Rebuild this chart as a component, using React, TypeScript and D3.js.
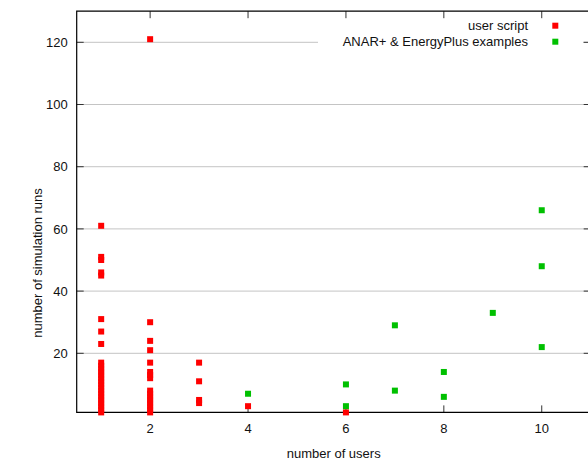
import React, { useRef, useEffect } from 'react';
import { select, scaleLinear } from 'd3';

// user script runs, one entry per (users, runs) point
const userScriptUsers = [
  1, 1, 1, 1, 1, 1, 1, 1, 1, 1, 1, 1, 1, 1, 1, 1, 1, 1, 1, 1, 1, 1, 1, 1, 1,
  2, 2, 2, 2, 2, 2, 2, 2, 2, 2, 2, 2, 2, 2, 2, 2,
  3, 3, 3, 3,
  4,
  6,
];
const userScriptRuns = [
  61, 51, 50, 46, 45, 31, 27, 23, 17, 16, 15, 14, 13, 12, 11, 10, 9, 8, 7, 6, 5, 4, 3, 2, 1,
  121, 30, 24, 21, 17, 14, 13, 12, 8, 7, 6, 5, 4, 3, 2, 1,
  17, 11, 5, 4,
  3,
  1,
];

// ANAR+ & EnergyPlus examples
const exampleUsers = [4, 6, 6, 7, 7, 8, 8, 9, 10, 10, 10];
const exampleRuns = [7, 10, 3, 29, 8, 14, 6, 33, 66, 48, 22];

const xTicks = [2, 4, 6, 8, 10];
const yTicks = [20, 40, 60, 80, 100, 120];
const seriesNames = ['user script', 'ANAR+ & EnergyPlus examples'];
const seriesColors = ['#ff0000', '#00c000'];

const W = 588;
const H = 462;
const FONT = '"Liberation Sans", Arial, Helvetica, sans-serif';

const App = () => {
  const svgRef = useRef(null);

  useEffect(() => {
    const svg = select(svgRef.current);
    svg.selectAll('*').remove();

    const left = 76.7;
    const right = 590.7;
    const top = 11.2;
    const bottom = 412.4;

    const xScale = scaleLinear().domain([0.5, 11]).range([left, right]);
    const yScale = scaleLinear().domain([1, 130]).range([bottom, top]);
    const tick = 7;

    // grid lines
    svg
      .selectAll('.grid')
      .data(yTicks)
      .join('line')
      .attr('class', 'grid')
      .attr('x1', left)
      .attr('x2', right)
      .attr('y1', (d) => yScale(d))
      .attr('y2', (d) => yScale(d))
      .attr('stroke', '#c4c4c4')
      .attr('stroke-width', 1);

    // legend background hides the top grid line
    svg
      .append('rect')
      .attr('x', 318)
      .attr('y', 16)
      .attr('width', 265)
      .attr('height', 34)
      .attr('fill', 'white');

    // y ticks, left and mirrored right
    const yt = svg.selectAll('.ytick').data(yTicks).join('g').attr('class', 'ytick');
    yt.append('line')
      .attr('x1', left)
      .attr('x2', left + tick)
      .attr('y1', (d) => yScale(d))
      .attr('y2', (d) => yScale(d))
      .attr('stroke', '#333');
    yt.append('line')
      .attr('x1', right - tick)
      .attr('x2', right)
      .attr('y1', (d) => yScale(d))
      .attr('y2', (d) => yScale(d))
      .attr('stroke', '#333');
    yt.append('text')
      .attr('x', left - 9)
      .attr('y', (d) => yScale(d) + 4.7)
      .attr('text-anchor', 'end')
      .attr('font-family', FONT)
      .attr('font-size', 13)
      .attr('fill', '#111')
      .text((d) => d);

    // x ticks, bottom and mirrored top
    const xt = svg.selectAll('.xtick').data(xTicks).join('g').attr('class', 'xtick');
    xt.append('line')
      .attr('x1', (d) => xScale(d))
      .attr('x2', (d) => xScale(d))
      .attr('y1', bottom)
      .attr('y2', bottom - tick)
      .attr('stroke', '#333');
    xt.append('line')
      .attr('x1', (d) => xScale(d))
      .attr('x2', (d) => xScale(d))
      .attr('y1', top)
      .attr('y2', top + tick)
      .attr('stroke', '#333');
    xt.append('text')
      .attr('x', (d) => xScale(d))
      .attr('y', bottom + 21)
      .attr('text-anchor', 'middle')
      .attr('font-family', FONT)
      .attr('font-size', 13)
      .attr('fill', '#111')
      .text((d) => d);

    // border
    svg
      .append('path')
      .attr('d', `M${right},${top}H${left}V${bottom}H${right}`)
      .attr('fill', 'none')
      .attr('stroke', '#000')
      .attr('stroke-width', 1.2);

    // axis titles
    svg
      .append('text')
      .attr('x', (left + right) / 2)
      .attr('y', 457.5)
      .attr('text-anchor', 'middle')
      .attr('font-family', FONT)
      .attr('font-size', 13)
      .attr('fill', '#111')
      .text('number of users');
    svg
      .append('text')
      .attr('transform', 'translate(42,263) rotate(-90)')
      .attr('text-anchor', 'middle')
      .attr('font-family', FONT)
      .attr('font-size', 13)
      .attr('fill', '#111')
      .text('number of simulation runs');

    const size = 6;
    const series = [
      { xs: userScriptUsers, ys: userScriptRuns, color: seriesColors[0] },
      { xs: exampleUsers, ys: exampleRuns, color: seriesColors[1] },
    ];
    series.forEach((s, si) => {
      svg
        .selectAll(`.pt${si}`)
        .data(s.ys.map((y, i) => [s.xs[i], y]))
        .join('rect')
        .attr('class', `pt${si}`)
        .attr('x', (d) => xScale(d[0]) - size / 2)
        .attr('y', (d) => yScale(d[1]) - size / 2)
        .attr('width', size)
        .attr('height', size)
        .attr('fill', s.color);
    });

    // legend
    const lg = svg
      .selectAll('.legend')
      .data(seriesNames)
      .join('g')
      .attr('class', 'legend')
      .attr('transform', (d, i) => `translate(0,${25.7 + i * 16})`);
    lg.append('text')
      .attr('x', 528)
      .attr('y', 4.7)
      .attr('text-anchor', 'end')
      .attr('font-family', FONT)
      .attr('font-size', 13)
      .attr('fill', '#111')
      .text((d) => d);
    lg.append('rect')
      .attr('x', 555.3 - size / 2)
      .attr('y', -size / 2)
      .attr('width', size)
      .attr('height', size)
      .attr('fill', (d, i) => seriesColors[i]);
  }, []);

  return (
    <svg
      ref={svgRef}
      width={W}
      height={H}
      style={{ position: 'absolute', left: 0, top: 0, background: 'white' }}
    />
  );
};

export default App;
